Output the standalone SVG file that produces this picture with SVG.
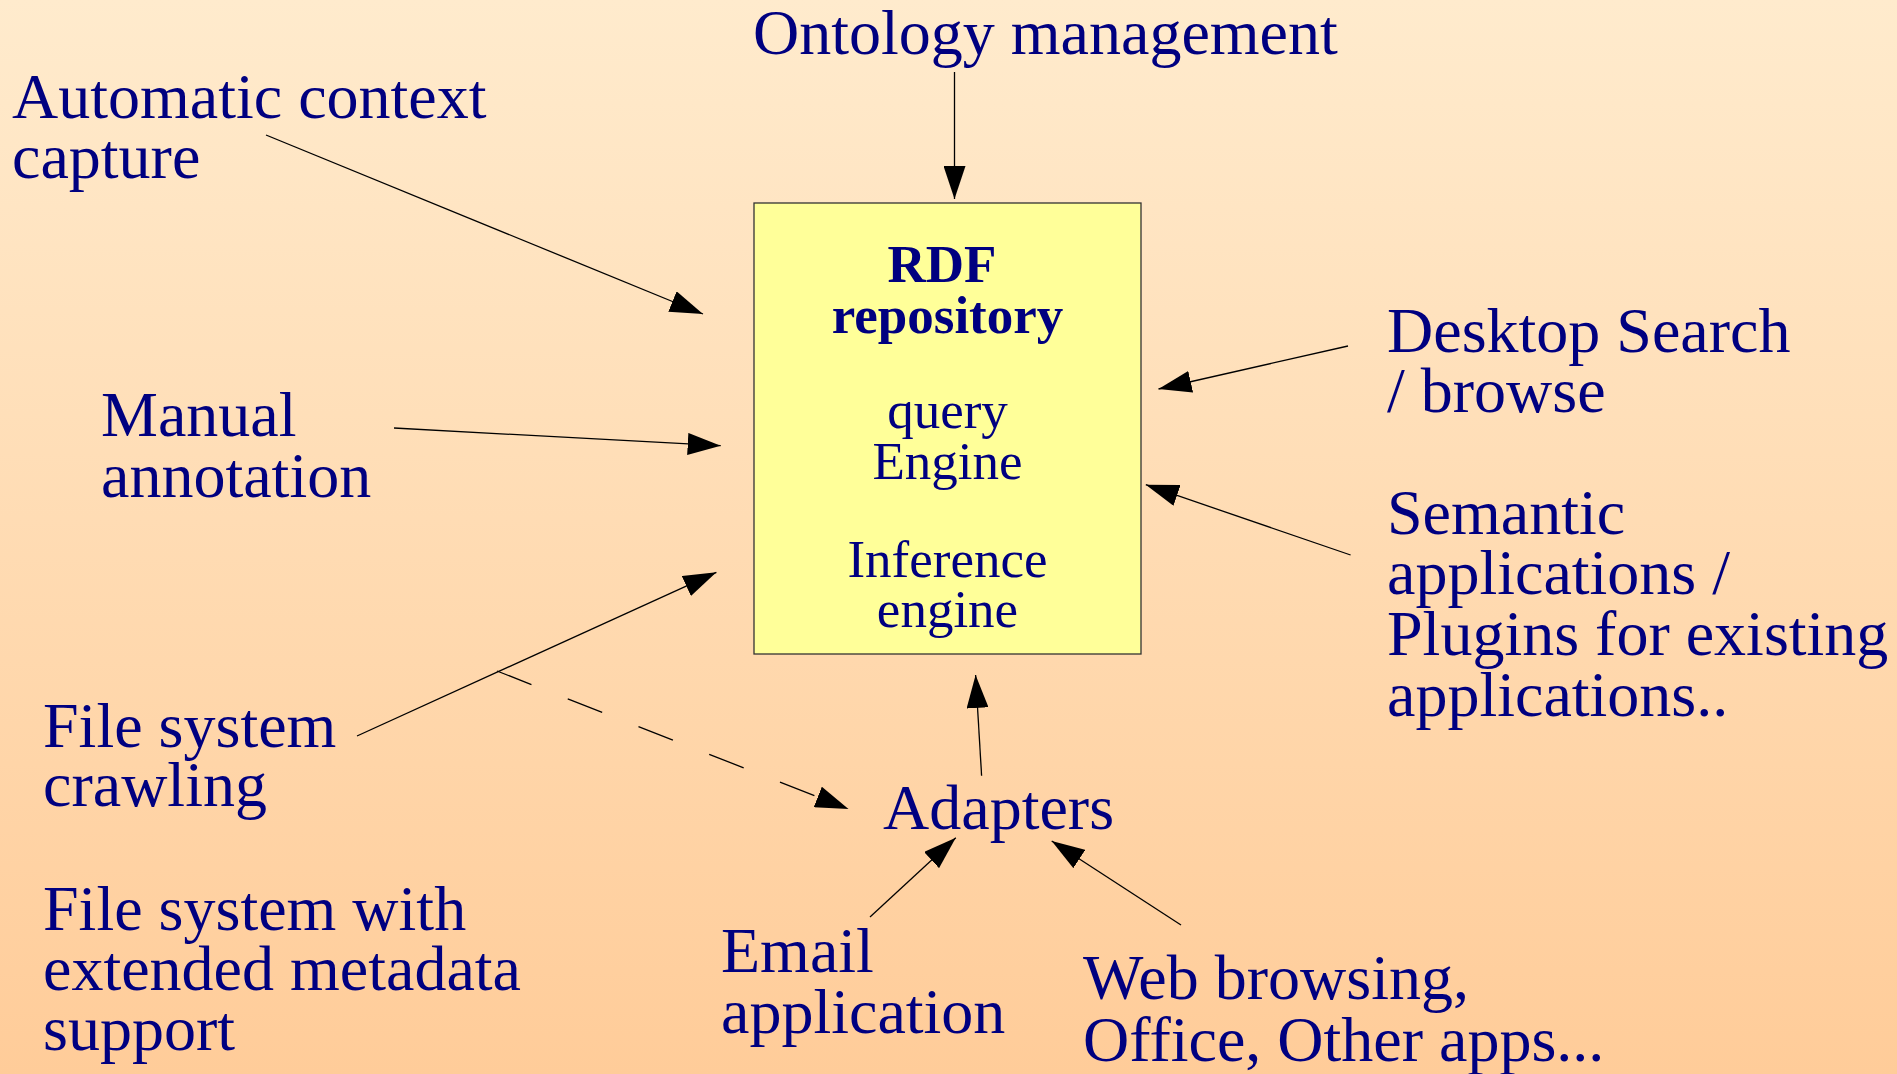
<svg xmlns="http://www.w3.org/2000/svg" width="1897" height="1074" viewBox="0 0 1897 1074">
<defs>
<linearGradient id="bg" x1="0" y1="0" x2="0" y2="1">
<stop offset="0" stop-color="#FFEBCD"/>
<stop offset="1" stop-color="#FFCC99"/>
</linearGradient>
<marker id="ah" viewBox="0 0 33 22" refX="33" refY="11" markerWidth="33" markerHeight="22" markerUnits="userSpaceOnUse" orient="auto">
<path d="M0,0 L33,11 L0,22 Z" fill="#000"/>
</marker>
<style>
text{font-family:"Liberation Serif","Times New Roman",serif;fill:#000080;}
.lbl{font-size:64px;}
.box{font-size:53px;text-anchor:middle;}
.b{font-weight:bold;}
.con line{stroke:#000;stroke-width:1.3;fill:none;marker-end:url(#ah);}
.con line.dash{stroke-dasharray:37 39;}
</style>
</defs>
<rect x="0" y="0" width="1897" height="1074" fill="url(#bg)"/>

<g id="rdf-repository">
<rect x="754" y="203" width="387" height="451" fill="#FFFF99" stroke="#333" stroke-width="1.3"/>
<text class="box b" x="942" y="282">RDF</text>
<text class="box b" x="947.5" y="333">repository</text>
<text class="box" x="947.5" y="428">query</text>
<text class="box" x="947.5" y="479">Engine</text>
<text class="box" x="947.5" y="577">Inference</text>
<text class="box" x="947.5" y="627">engine</text>
</g>

<g id="ontology-management"><text class="lbl" x="753" y="54">Ontology management</text></g>
<g id="automatic-context-capture">
<text class="lbl" x="12" y="118">Automatic context</text>
<text class="lbl" x="12" y="178">capture</text>
</g>
<g id="manual-annotation">
<text class="lbl" x="101" y="436">Manual</text>
<text class="lbl" x="101" y="497">annotation</text>
</g>
<g id="file-system-crawling">
<text class="lbl" x="43" y="747">File system</text>
<text class="lbl" x="43" y="806">crawling</text>
</g>
<g id="file-system-extended">
<text class="lbl" x="43" y="930">File system with</text>
<text class="lbl" x="43" y="990">extended metadata</text>
<text class="lbl" x="43" y="1050">support</text>
</g>
<g id="adapters"><text class="lbl" x="883" y="829">Adapters</text></g>
<g id="email-application">
<text class="lbl" x="721" y="972">Email</text>
<text class="lbl" x="721" y="1033">application</text>
</g>
<g id="web-browsing">
<text class="lbl" x="1083" y="999">Web browsing,</text>
<text class="lbl" x="1083" y="1061">Office, Other apps...</text>
</g>
<g id="desktop-search">
<text class="lbl" x="1387" y="352">Desktop Search</text>
<text class="lbl" x="1387" y="412">/ browse</text>
</g>
<g id="semantic-applications">
<text class="lbl" x="1387" y="534">Semantic</text>
<text class="lbl" x="1387" y="594">applications /</text>
<text class="lbl" x="1387" y="655">Plugins for existing</text>
<text class="lbl" x="1387" y="716">applications..</text>
</g>

<g id="connectors" class="con">
<line x1="954.5" y1="72" x2="954.5" y2="199"/>
<line x1="266" y1="135" x2="703" y2="314"/>
<line x1="394" y1="428" x2="720.7" y2="445.7"/>
<line x1="357" y1="736" x2="716.4" y2="572.3"/>
<line class="dash" x1="497" y1="671" x2="848.5" y2="809"/>
<line x1="1348" y1="346" x2="1158.5" y2="389"/>
<line x1="1350.6" y1="555" x2="1145.8" y2="484.7"/>
<line x1="981.6" y1="775.7" x2="975.6" y2="675"/>
<line x1="870" y1="917" x2="955.8" y2="837.7"/>
<line x1="1181" y1="925" x2="1051.7" y2="841"/>
</g>
</svg>
